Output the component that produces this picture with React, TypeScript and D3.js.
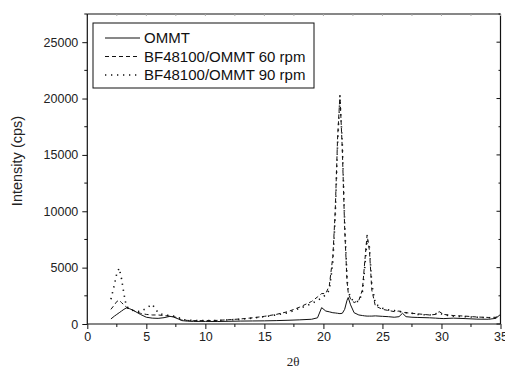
import * as d3 from 'd3';
import { useEffect, useRef } from 'react';

const W = 505;
const H = 369;

// 2θ sampling positions (shared by all three scans)
const twoTheta = [
    2, 2.3, 2.5, 2.7, 2.9, 3.1, 3.3, 3.6, 4, 4.5, 5, 5.5, 6, 6.5, 7, 7.3, 7.7, 8, 8.5, 9,
    10, 11, 12, 13, 14, 15, 16, 17, 18, 19, 19.5, 19.85, 20.2, 20.5, 20.8, 21, 21.2, 21.4,
    21.6, 21.8, 22, 22.1, 22.3, 22.6, 23, 23.3, 23.5, 23.7, 23.9, 24.1, 24.4, 25, 25.5, 26,
    26.4, 26.7, 27, 27.5, 28, 29, 29.5, 29.8, 30.2, 31, 32, 33, 34, 34.6, 35,
];

const ommt = [
    450, 700, 850, 1000, 1150, 1300, 1420, 1350, 1150, 850, 600, 520, 500, 560, 680, 620, 450, 300, 250, 230,
    230, 220, 240, 260, 270, 280, 300, 330, 370, 420, 550, 1450, 1150, 1080, 1000, 980, 950, 920,
    950, 1300, 2100, 2350, 1700, 1000, 800, 750, 720, 700, 700, 700, 720, 680, 650, 600,
    650, 950, 650, 600, 580, 550, 520, 500, 480, 520, 480, 430, 420, 500, 850,
];

const rpm60 = [
    1300, 1700, 2000, 2100, 1900, 1700, 1500, 1350, 1150, 950, 850, 800, 800, 750, 700, 650, 550, 350, 320, 300,
    300, 320, 380, 450, 550, 680, 850, 1100, 1500, 2000, 2400, 2700, 2700, 3400, 6000, 10000, 16500, 20300,
    15500, 8500, 3800, 2800, 2200, 1900, 2100, 3000, 5500, 7900, 6500, 3000, 1600, 1300, 1200, 1100,
    1150, 1050, 1000, 950, 900, 800, 850, 1100, 850, 750, 700, 620, 580, 600, 750,
];

const rpm90 = [
    2200, 3500, 4500, 4950, 4000, 2700, 1600, 1300, 1150, 1100, 1400, 1750, 1000, 800, 750, 700, 600, 400, 350, 300,
    300, 310, 370, 420, 520, 650, 800, 1000, 1400, 1800, 2100, 2300, 2600, 3000, 5500, 9500, 16000, 20000,
    16000, 9000, 4000, 3000, 2300, 2000, 2000, 2800, 5000, 7500, 6800, 3500, 1800, 1400, 1250, 1200,
    1100, 1100, 1000, 950, 850, 800, 900, 1000, 800, 700, 650, 600, 550, 550, 700,
];

const seriesNames = ['OMMT', 'BF48100/OMMT 60 rpm', 'BF48100/OMMT 90 rpm'];
const seriesDash = [null, '4,3', '1.3,4.7'];

const xTicks = [0, 5, 10, 15, 20, 25, 30, 35];
const yTicks = [0, 5000, 10000, 15000, 20000, 25000];

export default function App() {
    const svgRef = useRef<SVGSVGElement | null>(null);

    useEffect(() => {
        if (!svgRef.current) {
            return;
        }
        const svg = d3.select(svgRef.current);
        svg.selectAll('*').remove();

        const left = 87.3;
        const right = 500.5;
        const top = 14;
        const bottom = 324;

        const x = d3.scaleLinear().domain([0, 35]).range([left, right]);
        const y = d3.scaleLinear().domain([0, 27500]).range([bottom, top]);

        const font = '"Liberation Sans", Arial, sans-serif';
        const ink = '#111';

        // frame: top and right sides
        svg.append('line')
            .attr('x1', left).attr('x2', right).attr('y1', top).attr('y2', top)
            .attr('stroke', ink).attr('stroke-width', 1.2);
        svg.append('line')
            .attr('x1', right).attr('x2', right).attr('y1', top).attr('y2', bottom)
            .attr('stroke', ink).attr('stroke-width', 1.2);

        const xMinor = d3.range(0, 35.01, 2.5);
        const yMinor = d3.range(0, 27501, 2500);

        // faint ticks on top, inward ticks on right
        svg.append('g').selectAll('line').data(xMinor).join('line')
            .attr('x1', (d) => x(d)).attr('x2', (d) => x(d))
            .attr('y1', top).attr('y2', top + 2)
            .attr('stroke', '#aaa').attr('stroke-width', 1);
        svg.append('g').selectAll('line').data(yMinor).join('line')
            .attr('x1', right).attr('x2', (d) => right - (d % 5000 === 0 ? 4 : 2))
            .attr('y1', (d) => y(d)).attr('y2', (d) => y(d))
            .attr('stroke', ink).attr('stroke-width', 1);

        // bottom axis
        const gx = svg.append('g').attr('transform', `translate(0,${bottom})`);
        gx.call(d3.axisBottom(x).tickValues(xTicks).tickSize(5).tickSizeOuter(0).tickPadding(3));
        gx.append('g').selectAll('line').data(xMinor.filter((d) => d % 5 !== 0)).join('line')
            .attr('x1', (d) => x(d)).attr('x2', (d) => x(d))
            .attr('y1', 0).attr('y2', 3)
            .attr('stroke', ink);

        // left axis
        const gy = svg.append('g').attr('transform', `translate(${left},0)`);
        gy.call(d3.axisLeft(y).tickValues(yTicks).tickSize(5).tickSizeOuter(0).tickPadding(4).tickFormat(d3.format('d')));
        gy.append('g').selectAll('line').data(yMinor.filter((d) => d % 5000 !== 0)).join('line')
            .attr('x1', 0).attr('x2', -3)
            .attr('y1', (d) => y(d)).attr('y2', (d) => y(d))
            .attr('stroke', ink);
        gy.select('.domain').attr('d', `M0,${top}V${bottom}`);

        [gx, gy].forEach((g) => {
            g.select('.domain').attr('stroke', ink).attr('stroke-width', 1.2);
            g.selectAll('.tick line').attr('stroke', ink);
            g.selectAll('text').attr('font-family', font).attr('font-size', '12.5px').attr('fill', '#222');
        });
        gx.select('.domain').attr('d', `M${left},0H${right}`);

        // axis titles
        svg.append('text')
            .attr('transform', `translate(22,${(top + bottom) / 2 - 8}) rotate(-90)`)
            .attr('text-anchor', 'middle')
            .attr('font-family', font)
            .attr('font-size', '14.5px')
            .attr('fill', '#222')
            .text('Intensity (cps)');
        svg.append('text')
            .attr('x', 293)
            .attr('y', 366)
            .attr('text-anchor', 'middle')
            .attr('font-family', '"Liberation Serif", "Times New Roman", serif')
            .attr('font-size', '13px')
            .attr('fill', '#222')
            .text('2θ');

        // curves
        const allSeries = [ommt, rpm60, rpm90];
        const line = d3
            .line<number>()
            .x((_, i) => x(twoTheta[i]))
            .y((d) => y(d));

        const plot = svg.append('g');
        allSeries.forEach((vals, k) => {
            plot.append('path')
                .datum(vals)
                .attr('fill', 'none')
                .attr('stroke', ink)
                .attr('stroke-width', k === 2 ? 1.6 : 1)
                .attr('stroke-dasharray', seriesDash[k])
                .attr('d', line);
        });

        // legend
        const lg = svg.append('g');
        lg.append('rect')
            .attr('x', 93).attr('y', 23).attr('width', 221).attr('height', 65)
            .attr('fill', 'white').attr('stroke', ink).attr('stroke-width', 1);
        seriesNames.forEach((name, k) => {
            const ly = 38 + k * 18.5;
            lg.append('line')
                .attr('x1', 105).attr('x2', 140).attr('y1', ly).attr('y2', ly)
                .attr('stroke', ink)
                .attr('stroke-width', k === 2 ? 1.6 : 1)
                .attr('stroke-dasharray', seriesDash[k]);
            lg.append('text')
                .attr('x', 144)
                .attr('y', ly + 5)
                .attr('font-family', font)
                .attr('font-size', '15px')
                .attr('fill', '#111')
                .text(name);
        });
    }, []);

    return (
        <svg
            ref={svgRef}
            width={W}
            height={H}
            style={{ position: 'absolute', left: 0, top: 0, background: 'white', display: 'block' }}
        />
    );
}
